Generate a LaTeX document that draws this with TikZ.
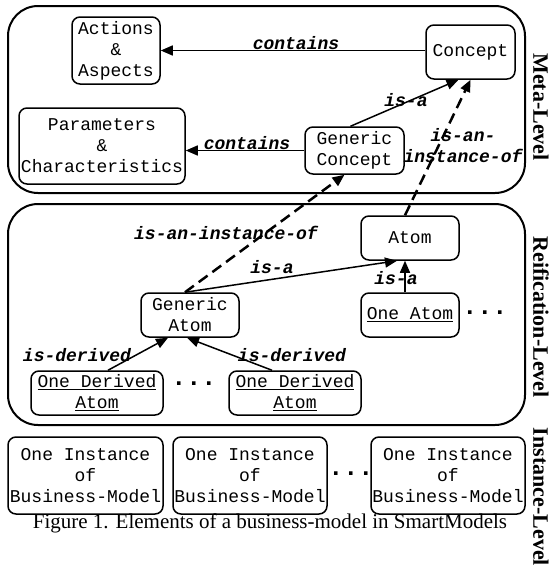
\documentclass[tikz,border=0pt]{standalone}
\usepackage{fontspec}
\setmainfont{Liberation Serif}
\setmonofont{Liberation Mono}
\usetikzlibrary{arrows.meta}

\tikzset{every picture/.style={line width=1.5pt}}
\tikzset{
	box/.style={draw, rounded corners=8pt, align=center, inner sep=0pt, font=\ttfamily\fontsize{18}{21}\selectfont},
	lvl/.style={draw, line width=2pt, rounded corners=30pt},
	rel/.style={font=\ttfamily\bfseries\itshape\fontsize{18}{21}\selectfont},
	arr/.style={-{Triangle[length=12pt,width=10pt]}},
	instof/.style={arr, dash pattern=on 11pt off 6pt, line width=2.5pt},
	ellip/.style={font=\ttfamily\bfseries\fontsize{25}{26}\selectfont},
	side/.style={rotate=-90, font=\bfseries\fontsize{22}{26}\selectfont}}

\begin{document}
\begin{tikzpicture}[x=1pt,y=1pt,yscale=-1,xscale=1]
	\useasboundingbox (0,0) rectangle (554,566);

	%Shape: Level frames
	\draw [lvl] (8,6) rectangle (525,193);
	\draw [lvl] (8,204) rectangle (525,425);

	% Meta-Level
	\draw (116,50.5) node [box, minimum width=88pt, minimum height=67pt] (act) {Actions\\\&\\Aspects};
	\draw (102,146) node [box, minimum width=166pt, minimum height=76pt] (par) {Parameters\\\&\\Characteristics};
	\draw (470.5,52) node [box, minimum width=89pt, minimum height=54pt] (con) {Concept};
	\draw (354.5,150.5) node [box, minimum width=99pt, minimum height=47pt] (gcon) {Generic\\Concept};

	% Reification-Level
	\draw (410,238) node [box, minimum width=98pt, minimum height=44pt] (atom) {Atom};
	\draw (410,315) node [box, minimum width=98pt, minimum height=44pt] (oneatom) {\underline{One Atom}};
	\draw (190,315) node [box, minimum width=98pt, minimum height=44pt] (gatom) {Generic\\Atom};
	\draw (97,393) node [box, minimum width=132pt, minimum height=44pt] (der1) {\underline{One Derived}\\\underline{Atom}};
	\draw (295,393) node [box, minimum width=132pt, minimum height=44pt] (der2) {\underline{One Derived}\\\underline{Atom}};

	% Instance-Level
	\draw (85.5,475.5) node [box, minimum width=155pt, minimum height=77pt] (inst1) {One Instance\\of\\Business-Model};
	\draw (250,475.5) node [box, minimum width=154pt, minimum height=77pt] (inst2) {One Instance\\of\\Business-Model};
	\draw (448,475.5) node [box, minimum width=154pt, minimum height=77pt] (inst3) {One Instance\\of\\Business-Model};

	% Connectors
	\draw [arr] (con.west |- act.east) -- (act.east);
	\draw [arr] (gcon.west) -- (gcon.west -| par.east);
	\draw [arr] ([xshift=-4pt]gcon.north) -- ([xshift=-12pt]con.south);
	\draw [instof] ([xshift=-5pt]atom.north) -- (con.south);
	\draw [instof] ([xshift=-5pt]gatom.north) -- ([xshift=-10pt]gcon.south);
	\draw [arr] ([xshift=-5pt]gatom.north) -- ([xshift=-13pt]atom.south);
	\draw [arr] ([xshift=-5pt]oneatom.north) -- ([xshift=-5pt]atom.south);
	\draw [arr] ([xshift=11pt]der1.north) -- ([xshift=-22pt]gatom.south);
	\draw [arr] ([xshift=-23pt]der2.north) -- ([xshift=-3pt]gatom.south);

	% Text Node
	\draw (296,43) node [rel] (l1) {contains};
	% Text Node
	\draw (247,143) node [rel] (l2) {contains};
	% Text Node
	\draw (406,100) node [rel] (l3) {is-a};
	% Text Node
	\draw (463,146) node [rel, align=center] (l4) {is-an-\\instance-of};
	% Text Node
	\draw (226,233) node [rel] (l5) {is-an-instance-of};
	% Text Node
	\draw (272,267) node [rel] (l6) {is-a};
	% Text Node
	\draw (396,278) node [rel] (l7) {is-a};
	% Text Node
	\draw (77,355) node [rel] (l8) {is-derived};
	% Text Node
	\draw (292,355) node [rel] (l9) {is-derived};

	% Dots
	\draw (194,384) node [ellip] (e1) {...};
	\draw (485,313) node [ellip] (e2) {...};
	\draw (351,474) node [ellip] (e3) {...};

	% Side labels
	\draw (541,107) node [side] (s1) {Meta-Level};
	\draw (541,317) node [side] (s2) {Reification-Level};
	\draw (541,497) node [side] (s3) {Instance-Level};

	% Caption
	\draw (270,523) node [font=\fontsize{21}{24}\selectfont] (cap) {Figure 1. Elements of a business-model in SmartModels};
\end{tikzpicture}
\end{document}
